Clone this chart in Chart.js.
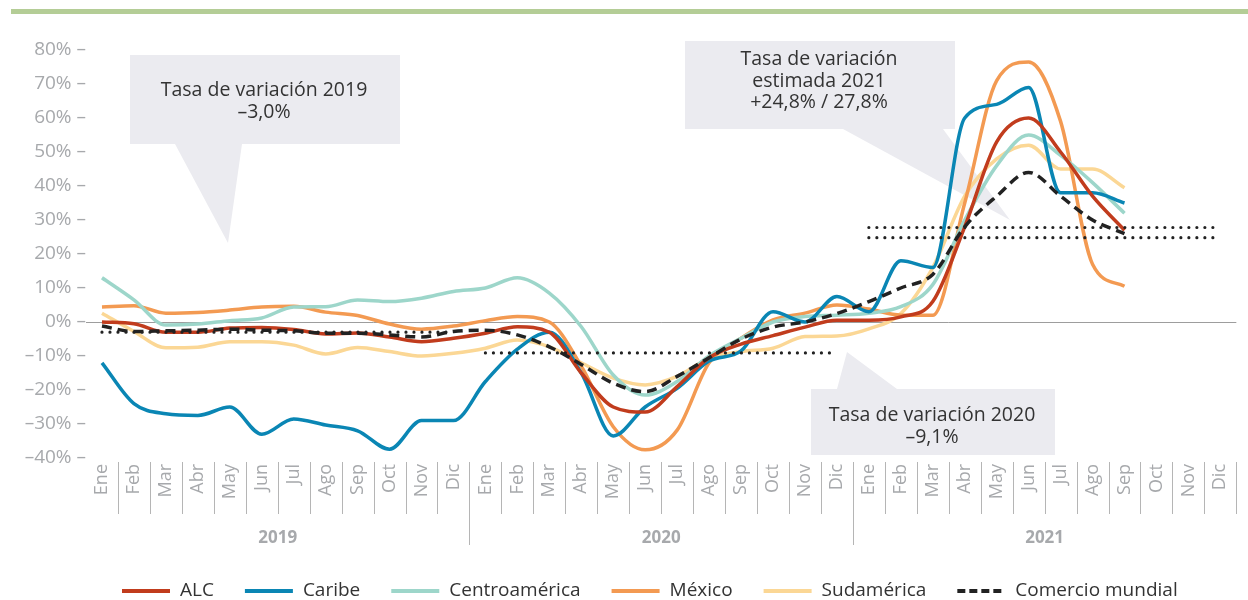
<!DOCTYPE html>
<html>
<head>
<meta charset="utf-8">
<script src="https://cdn.jsdelivr.net/npm/chart.js@4.4.1/dist/chart.umd.min.js"></script>
<style>
  html, body { margin: 0; padding: 0; background: #fff; }
  #wrap { position: relative; width: 1248px; height: 600px; }
  #graf { position: absolute; left: 0; top: 0; }
  #barra { position: absolute; left: 11px; top: 9px; width: 1237px; height: 5px; background: #b4cd96; }
</style>
</head>
<body>
<div id="wrap">
  <canvas id="graf" width="1248" height="600"></canvas>
  <div id="barra"></div>
</div>
<script>
// =============================
//   DADOS (ene 2019 - sep 2021)
// =============================
const meses = ['Ene', 'Feb', 'Mar', 'Abr', 'May', 'Jun', 'Jul', 'Ago', 'Sep', 'Oct', 'Nov', 'Dic'];
const anios = ['2019', '2020', '2021'];
const categorias = anios.flatMap(a => meses.map(m => m + ' ' + a));

const alc = [
  0, -0.5, -3, -3, -1.8, -1.6, -2.2, -3.5, -3.2, -4.4, -5.8, -4.8,
  -3.3, -1.4, -3, -15, -25, -26.5, -19, -10.5, -6.5, -4, -1.5, 0.5,
  0.5, 1.5, 6, 28, 53, 60, 50, 37, 27
];
const caribe = [
  -12, -24, -27, -27.5, -25, -33, -28.5, -30.3, -32, -37.4, -29, -29,
  -17.5, -8, -3, -15, -33.5, -25, -19.5, -11.5, -8.5, 3, 0, 7.5,
  3, 18, 16, 60, 64, 69, 38, 38, 35
];
const centroamerica = [
  13, 6.5, -0.9, -0.6, 0.4, 1.2, 4.4, 4.5, 6.5, 6, 7, 9,
  10, 13, 8.5, -1.4, -15.6, -21.5, -17.5, -10, -4.8, 0, 1.6, 2,
  2.6, 4.5, 11, 30, 46, 55, 49, 41, 32
];
const mexico = [
  4.4, 4.8, 2.6, 2.8, 3.5, 4.4, 4.6, 2.9, 1.9, -0.6, -2.1, -1.2,
  0.4, 1.6, 0, -13, -30.8, -37.6, -31.8, -12, -4.8, 0.6, 2.6, 5,
  3.8, 2, 2, 35, 71, 76.5, 59, 17, 10.5
];
const sudamerica = [
  2.6, -2.8, -7.6, -7.4, -5.8, -5.8, -6.8, -9.4, -7.5, -8.7, -10, -9.2,
  -7.7, -5.3, -7.3, -12, -16.5, -18.5, -16, -10.7, -8.7, -7.7, -4.3, -4.1,
  -2, 2.5, 16, 37, 48, 52, 45, 45, 39.5
];
const comercioMundial = [
  -1.2, -2.8, -2.6, -2.4, -2.1, -2.4, -2.6, -3.3, -3.3, -3.8, -4.4, -2.8,
  -2.4, -3.8, -7.3, -12.5, -18, -20.5, -16, -10.5, -5, -1.5, 0, 2.5,
  6, 10, 14, 28, 37, 44, 37, 30, 26
];

// tasas de variación anual (líneas punteadas)
const tasa2019 = -3.0;
const tasa2020 = -9.1;
const tasa2021 = [24.8, 27.8];

// globos de texto (anotaciones, en píxeles)
const globos = [
  { x: 130, y: 55, w: 270, h: 89, cola: [[175, 144], [242, 144], [228, 243]],
    cx: 264, lineas: ['Tasa de variación 2019', '–3,0%'], ys: [90, 112] },
  { x: 685, y: 41, w: 270, h: 88, cola: [[843, 129], [943, 129], [1010, 220]],
    cx: 819, lineas: ['Tasa de variación', 'estimada 2021', '+24,8% / 27,8%'], ys: [59, 81, 102] },
  { x: 811, y: 389, w: 244, h: 66, cola: [[837, 389], [897, 389], [847, 352]],
    cx: 932, lineas: ['Tasa de variación 2020', '–9,1%'], ys: [415, 437] }
];

const FONTE = "'Open Sans', 'Noto Sans', sans-serif";
const CINZA = '#a7a9ac';

function serie(label, data, color, extra) {
  return Object.assign({
    label, data,
    borderColor: color,
    backgroundColor: color,
    borderWidth: 3.5,
    pointRadius: 0,
    cubicInterpolationMode: 'monotone',
    fill: false,
    enLeyenda: true
  }, extra || {});
}

function punteada(anio, valor) {
  return {
    label: 'Tasa ' + anio,
    data: [{ x: 'Ene ' + anio, y: valor }, { x: 'Dic ' + anio, y: valor }],
    borderColor: '#222',
    borderWidth: 3.2,
    borderDash: [0, 8],
    borderCapStyle: 'round',
    pointRadius: 0,
    fill: false,
    order: -2,
    enLeyenda: false
  };
}

// Plugin: globos, separadores del eje, años y leyenda
const extrasPlugin = {
  id: 'extras',
  beforeDatasetsDraw(chart) {
    const { ctx } = chart;
    ctx.save();
    globos.forEach(g => {
      ctx.fillStyle = '#ebebf0';
      ctx.fillRect(g.x, g.y, g.w, g.h);
      ctx.beginPath();
      ctx.moveTo(g.cola[0][0], g.cola[0][1]);
      ctx.lineTo(g.cola[1][0], g.cola[1][1]);
      ctx.lineTo(g.cola[2][0], g.cola[2][1]);
      ctx.closePath();
      ctx.fill();

      ctx.fillStyle = '#333';
      ctx.font = '19.5px ' + FONTE;
      ctx.textAlign = 'center';
      ctx.textBaseline = 'middle';
      g.lineas.forEach((t, i) => ctx.fillText(t, g.cx, g.ys[i]));
    });
    ctx.restore();
  },
  afterDraw(chart) {
    const { ctx } = chart;
    const xs = chart.scales.x;
    const top = xs.top + 4;
    const paso = xs.getPixelForValue(1) - xs.getPixelForValue(0);

    ctx.save();
    ctx.strokeStyle = '#b5b5b5';
    ctx.lineWidth = 1;
    for (let i = 0; i < categorias.length; i++) {
      const x = Math.round(xs.getPixelForValue(i) + paso / 2) + 0.5;
      const finAnio = (i % 12 === 11) && i < categorias.length - 1;
      ctx.beginPath();
      ctx.moveTo(x, top);
      ctx.lineTo(x, finAnio ? 545 : 514);
      ctx.stroke();
    }

    // años
    ctx.fillStyle = CINZA;
    ctx.font = 'bold 17px ' + FONTE;
    ctx.textAlign = 'center';
    ctx.textBaseline = 'middle';
    anios.forEach((a, k) => {
      const x0 = xs.getPixelForValue(k * 12) - paso / 2;
      const x1 = xs.getPixelForValue(k * 12 + 11) + paso / 2;
      ctx.fillText(a, (x0 + x1) / 2, 538);
    });

    // leyenda
    let x = 122;
    const y = 591;
    ctx.font = '19px ' + FONTE;
    ctx.textAlign = 'left';
    chart.data.datasets.filter(d => d.enLeyenda).forEach(d => {
      ctx.strokeStyle = d.borderColor;
      ctx.lineWidth = 4;
      ctx.setLineDash(d.borderDash ? [8, 4] : []);
      ctx.beginPath();
      ctx.moveTo(x, y);
      ctx.lineTo(x + 48, y);
      ctx.stroke();
      ctx.setLineDash([]);
      ctx.fillStyle = '#333';
      ctx.fillText(d.label, x + 58, y);
      x += 58 + ctx.measureText(d.label).width + 31;
    });
    ctx.restore();
  }
};

new Chart(document.getElementById('graf'), {
  type: 'line',
  data: {
    labels: categorias,
    datasets: [
      serie('ALC', alc, '#c13c1d'),
      serie('Caribe', caribe, '#0a86b4'),
      serie('Centroamérica', centroamerica, '#9dd6ca'),
      serie('México', mexico, '#f39a52'),
      serie('Sudamérica', sudamerica, '#fbd795'),
      serie('Comercio mundial', comercioMundial, '#222', { borderDash: [10, 6], order: -1 }),
      punteada('2019', tasa2019),
      punteada('2020', tasa2020),
      punteada('2021', tasa2021[0]),
      punteada('2021', tasa2021[1])
    ]
  },
  options: {
    responsive: false,
    animation: false,
    layout: { padding: { top: 50, right: 3, left: 0, bottom: 0 } },
    plugins: {
      legend: { display: false },
      tooltip: { enabled: false }
    },
    scales: {
      x: {
        offset: true,
        grid: { display: false, drawTicks: false },
        border: { display: false },
        ticks: {
          autoSkip: false,
          minRotation: 90,
          maxRotation: 90,
          padding: 6,
          color: CINZA,
          font: { family: FONTE, size: 18 },
          callback: (v, i) => meses[i % 12]
        },
        afterFit: s => { s.height = 142; }
      },
      y: {
        min: -40,
        max: 80,
        grid: {
          drawTicks: false,
          color: c => (c.tick && c.tick.value === 0 ? '#9d9d9d' : 'rgba(0,0,0,0)'),
          lineWidth: 1
        },
        border: { display: false },
        ticks: {
          stepSize: 10,
          padding: 0,
          color: CINZA,
          font: { family: FONTE, size: 19 },
          callback: v => String(v).replace('-', '–') + '% –'
        },
        afterFit: s => { s.width = 86; }
      }
    }
  },
  plugins: [extrasPlugin]
});
</script>
</body>
</html>
